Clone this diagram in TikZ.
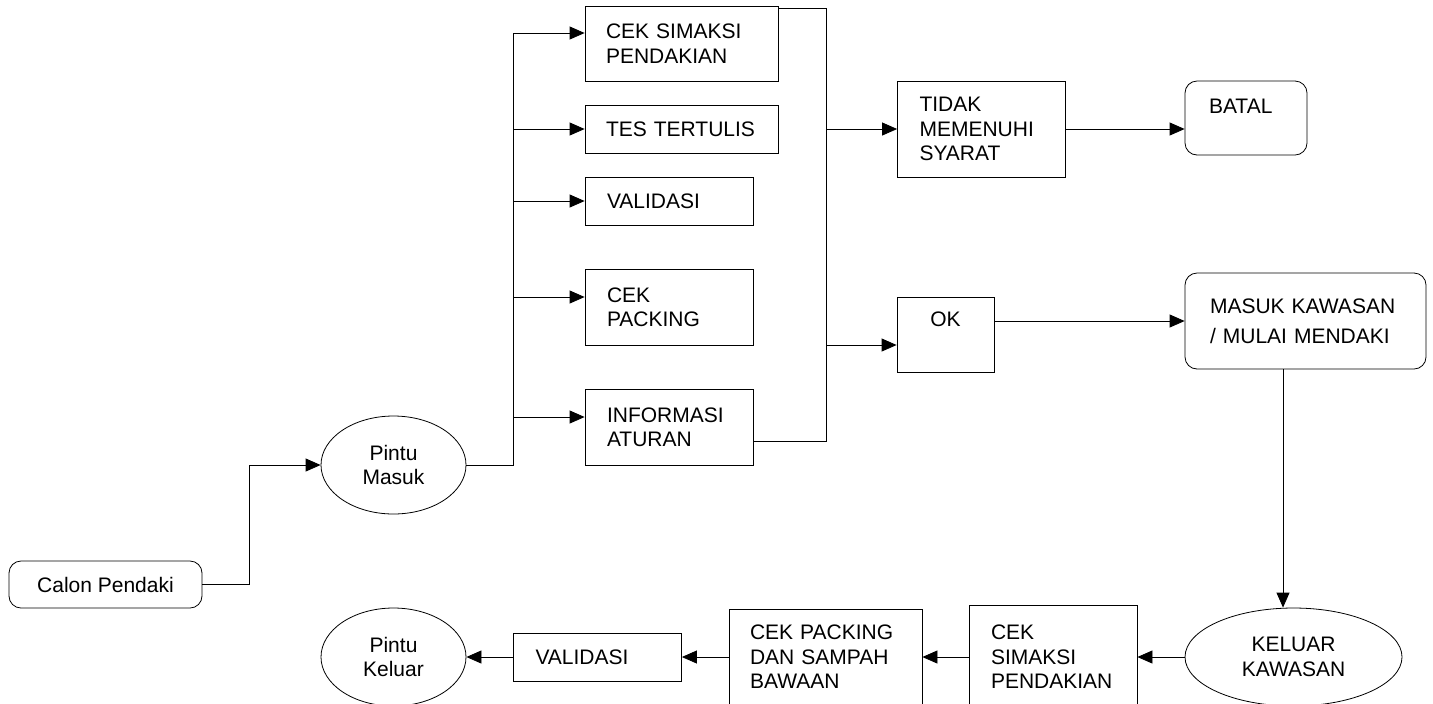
\documentclass[tikz,border=0pt]{standalone}
\usepackage{fontspec}
\setmainfont{Liberation Sans}
\usetikzlibrary{
  positioning,      % Function "of"
  shapes.geometric, % Shape "ellipse"
  arrows.meta,      % Tip "Triangle"
  calc
}
\tikzset{
  font=\fontsize{10.5}{12.2}\selectfont,
  line width=0.8pt,
  >={Triangle[length=7.5pt,width=6.5pt]},
  kotak/.style={
    draw,
    rectangle,
    align=left,
    inner xsep=11pt,
    inner ysep=0pt
  },
  kotak lebar/.style={kotak, inner xsep=10.5pt, text width=75.5pt},
  kotak sedang/.style={kotak, text width=62pt},
  sudut/.style={rounded corners=6pt},
  pintu/.style={
    draw,
    ellipse,
    align=center,
    inner sep=0pt,
    minimum height=49pt
  }
}
\begin{document}
\begin{tikzpicture}[x=0.5pt,y=-0.5pt]
\useasboundingbox (0,0) rectangle (1433,703);
\clip (0,0) rectangle (1433,703);
% masuk
\node[kotak, sudut, minimum width=96.5pt, minimum height=23.5pt] (calon) at (105.5,584.5) {Calon Pendaki};
\node[pintu, minimum width=72.5pt] (masuk) at (393.5,465) {Pintu\\Masuk};
\node[kotak lebar, minimum height=37.5pt] (simaksi) at (681.5,43.5) {CEK SIMAKSI\\PENDAKIAN};
\node[kotak lebar, minimum height=24pt] (tes) at (681.5,129) {TES TERTULIS};
\node[kotak sedang, minimum height=24pt] (validasi) at (669,201) {VALIDASI};
\node[kotak sedang, minimum height=38pt] (packing) at (669,307) {CEK\\PACKING};
\node[kotak sedang, minimum height=38pt] (informasi) at (669,427) {INFORMASI\\ATURAN};
\node[kotak sedang, minimum height=48pt] (tidak) at (981.5,129) {TIDAK\\MEMENUHI\\SYARAT};
\node[kotak, sudut, inner xsep=12pt, text width=37pt, minimum height=37pt, text depth=11.5pt] (batal) at (1246,118) {BATAL};
\node[kotak, align=center, minimum width=48.5pt, minimum height=37.5pt, text depth=15pt] (ok) at (945.5,334.5) {OK};
\node[kotak, sudut, inner xsep=12.5pt, text width=95.5pt, minimum height=48pt, font=\fontsize{10.5}{15}\selectfont] (mulai) at (1305.5,321) {MASUK KAWASAN\\/ MULAI MENDAKI};
% keluar
\node[pintu, minimum width=108.5pt] (keluar) at (1293.5,657) {KELUAR\\KAWASAN};
\node[kotak sedang, minimum height=52pt] (csimaksi) at (1053,657) {CEK\\SIMAKSI\\PENDAKIAN};
\node[kotak lebar, minimum height=48pt] (cpacking) at (825.5,657) {CEK PACKING\\DAN SAMPAH\\BAWAAN};
\node[kotak sedang, minimum height=24pt] (kvalidasi) at (597.5,657) {VALIDASI};
\node[pintu, minimum width=72.5pt] (pkeluar) at (393.5,657) {Pintu\\Keluar};

\coordinate (belok) at (249,465);
\coordinate (cabang) at (513,465);
\coordinate (cabang atas) at (513,33);
\coordinate (gabung) at (826,441);
\coordinate (turun) at ([xshift=-11.25pt]mulai.south);

\draw[->] (calon.east) -| (belok) -- (masuk.west);
\draw (masuk.east) -- (cabang) -- (cabang atas);
\foreach \n/\y in {simaksi/33,tes/129,validasi/201,packing/297,informasi/417}
  \draw[->] (cabang |- 0,\y) -- (\n.west |- 0,\y);
\draw ([yshift=-1.5pt]simaksi.north east) -| (gabung) -- (gabung -| informasi.east);
\draw[->] (gabung |- tidak.west) -- (tidak.west);
\draw[->] (gabung |- 0,345) -- (ok.west |- 0,345);
\draw[->] (tidak.east) -- (tidak.east -| batal.west);
\draw[->] (ok.east |- mulai.west) -- (mulai.west);
\draw[->] (turun) -- (turun |- keluar.north);
\draw[->] (keluar.west) -- (csimaksi.east);
\draw[->] (csimaksi.west) -- (cpacking.east);
\draw[->] (cpacking.west) -- (kvalidasi.east);
\draw[->] (kvalidasi.west) -- (pkeluar.east);
\end{tikzpicture}
\end{document}
